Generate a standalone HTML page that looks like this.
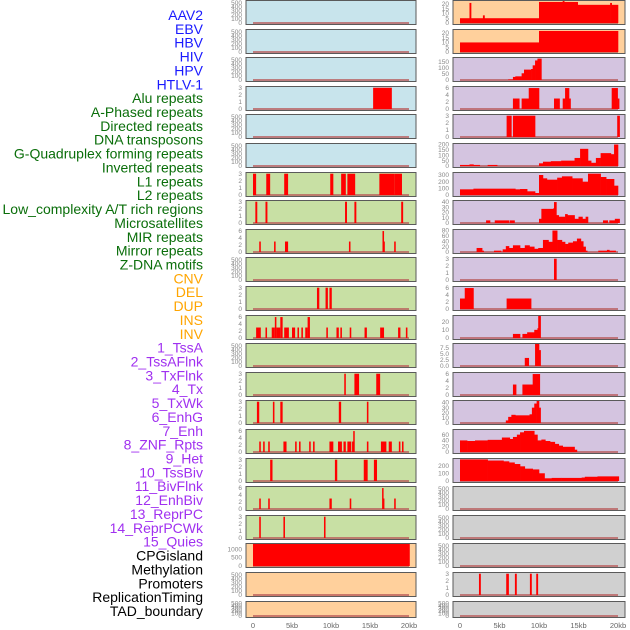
<!DOCTYPE html>
<html><head><meta charset="utf-8">
<style>
html,body{margin:0;padding:0;background:#fff;}
svg{display:block;}
text{font-family:"Liberation Sans",sans-serif;}
</style></head>
<body>
<svg id="chart" width="630" height="630" viewBox="0 0 630 630" xmlns="http://www.w3.org/2000/svg"></svg>
<script>
// ---------- labels ----------
const labelNames=["AAV2","EBV","HBV","HIV","HPV","HTLV-1","Alu repeats","A-Phased repeats","Directed repeats","DNA transposons","G-Quadruplex forming repeats","Inverted repeats","L1 repeats","L2 repeats","Low_complexity A/T rich regions","Microsatellites","MIR repeats","Mirror repeats","Z-DNA motifs","CNV","DEL","DUP","INS","INV","1_TssA","2_TssAFlnk","3_TxFlnk","4_Tx","5_TxWk","6_EnhG","7_Enh","8_ZNF_Rpts","9_Het","10_TssBiv","11_BivFlnk","12_EnhBiv","13_ReprPC","14_ReprPCWk","15_Quies","CPGisland","Methylation","Promoters","ReplicationTiming","TAD_boundary"];
const labelGroups=[0,0,0,0,0,0,1,1,1,1,1,1,1,1,1,1,1,1,1,2,2,2,2,2,3,3,3,3,3,3,3,3,3,3,3,3,3,3,3,4,4,4,4,4];
const groupColors=["#1a1aff","#0a6e0a","#ffa500","#a030f0","#000000"];

// ---------- x ticks ----------
const xTickVals=[0,5,10,15,20];
const xTickLabels=["0","5kb","10kb","15kb","20kb"];

// ---------- left column data (segments: start kb, end kb, value) ----------
const lp3_x0=[15.4], lp3_x1=[17.8], lp3_v=[3];
const lp6_x0=[0,1.7,4,9.9,11.3,12.1,16.2,18.1], lp6_x1=[0.4,2.2,4.5,10.3,11.9,13.1,18.1,19.1], lp6_v=[3,3,3,3,3,3,3,3];
const lp7_x0=[0.3,1.6,11.8,13.0,19.0], lp7_x1=[0.55,1.85,12.05,13.25,19.25], lp7_v=[3,3,3,3,3];
const lp8_x0=[0.8,2.7,4.1,12.3,16.6,16.7,18.1], lp8_x1=[1.0,2.9,4.5,12.5,16.8,16.9,18.3], lp8_v=[3,3,3,3,6,3,3];
const lp10_x0=[8.2,9.3,9.8], lp10_x1=[8.5,9.6,10.1], lp10_v=[3,3,3];
const lp11_x0=[0.4,1.6,2.4,2.8,3.0,3.5,4.0,5.0,5.7,6.2,6.7,7.0,9.4,10.7,11.2,12.4,14.3,16.3,18.6,19.6];
const lp11_x1=[1.0,1.8,2.8,3.0,3.5,3.8,4.6,5.4,5.9,6.4,7.0,7.3,9.6,11.0,11.4,12.6,14.6,16.8,18.9,19.8];
const lp11_v=[3,3,3,6,3,6,3,3,3,3,3,6,3,3,3,3,3,3,3,3];
const lp13_x0=[11.7,13.0,15.8], lp13_x1=[11.9,13.6,16.3], lp13_v=[3,3,3];
const lp14_x0=[0.5,2.55,3.5,11.0,14.6], lp14_x1=[0.8,2.75,3.8,11.3,14.8], lp14_v=[3,3,3,3,3];
const lp15_x0=[0.8,1.3,1.95,3.9,5.4,5.9,7.2,7.7,9.8,10.9,11.6,12.1,12.7,14.6,16.4,17.4,18.7,19.1,12.85];
const lp15_x1=[1.0,1.5,2.15,4.3,5.6,6.1,7.4,7.9,10.3,11.4,11.9,12.6,13.0,14.8,17.1,17.8,18.9,19.3,12.95];
const lp15_v=[3,3,3,3,3,3,3,3,3,3,3,3,3,3,3,3,3,3,6];
const lp16_x0=[2.2,10.5,14.2,15.5], lp16_x1=[2.5,10.8,14.7,15.9], lp16_v=[3,3,3,3];
const lp17_x0=[0.8,1.95,9.8,12.4,16.55,16.65,18.1], lp17_x1=[1.0,2.15,10.1,12.6,16.65,16.85,18.3], lp17_v=[3,3,3,3,6,3,3];
const lp18_x0=[0.8,3.9,9.1], lp18_x1=[1.0,4.1,9.3], lp18_v=[3,3,3];
const lp19_x0=[0], lp19_x1=[20.1], lp19_v=[1300];

// ---------- right column data (step edges in kb, values between) ----------
const rp0_e=[0,1.2,1.4,2.9,3.1,10,13,13.15,14.9,19.0,19.2,20], rp0_v=[5,21,5,8,5,22,25,22,19,21,19];
const rp1_e=[0,10,20], rp1_v=[10,22];
const rp2_e=[6.1,6.7,7.0,7.8,8.1,9.0,9.2,9.5,9.8,10.3], rp2_v=[5,25,30,55,85,90,120,160,175];
const rp3_e=[6.7,7.5,7.8,8.7,10.0,11.9,12.6,13.0,13.3,13.8,13.9,19.2,19.95,20.1], rp3_v=[3,0,3,6,0,3,0,3,6,3,0,6,3];
const rp4_e=[5.9,6.5,6.7,9.5,19.9,20.2], rp4_v=[3,0,3,0,3];
const rp5_e=[0,1.2,1.7,2.5,3.5,4.7,10,10.5,11.5,12.8,14.5,15.2,16.2,16.6,17.2,17.8,19.1,19.5,20], rp5_v=[10,15,10,0,10,0,25,40,45,50,75,160,50,30,75,120,110,200];
const rp6_e=[0,1.7,7,7.6,8.5,9.5,10,10.5,11,12.3,12.9,14.2,15.5,16.2,17.8,18.5,19.5,20], rp6_v=[85,95,85,90,55,30,300,250,230,260,280,250,200,320,270,240,140];
const rp7_e=[3.3,3.8,4.4,6.2,6.3,6.9,10.0,10.3,11.8,11.9,12.2,12.5,13.3,13.6,14.5,15.0,15.5,15.9,16.2,18.1,18.7,18.9,19.6,20.2], rp7_v=[5,0,5,0,5,0,8,27,28,40,15,12,17,15,8,12,8,12,0,5,0,5,8];
const rp8_e=[2.1,2.8,2.9,4.3,5.2,5.4,5.8,6.2,6.7,7.6,8.2,8.8,9.4,9.9,10.5,11.2,11.7,12.3,12.9,13.3,13.7,14.3,14.8,15.3,15.6,15.9,16.1,17.5,18.6,18.9,19.7], rp8_v=[15,5,0,5,0,10,22,15,25,15,25,20,12,15,45,38,80,45,38,30,35,40,50,40,20,5,0,5,8,5];
const rp9_e=[11.9,12.2], rp9_v=[3];
const rp10_e=[0,0.6,1.7,5.9,9.0], rp10_v=[3,6,0,3];
const rp11_e=[6.7,7.6,7.9,8.5,9.4,9.8,9.9,10.2], rp11_v=[5,0,5,7,10,12,27];
const rp12_e=[8.2,8.7,9.5,10.0,10.2], rp12_v=[3.3,0,9,6.5];
const rp13_e=[6.7,7.1,7.9,9.2,10.1], rp13_v=[3,0,3,6];
const rp14_e=[5.8,6.1,6.5,7.0,8.8,9.1,9.4,9.7,10.0,10.2], rp14_v=[5,12,16,15,17,30,38,43,30];
const rp15_e=[0,0.9,1.9,3.5,5.3,6.3,6.7,7.2,7.6,8.1,9.4,9.8,10.3,10.8,11.4,12.0,12.5,13.0,14.5,14.8], rp15_v=[40,38,40,42,50,45,52,60,68,73,60,40,43,38,35,28,22,18,8];
const rp16_e=[0,3.5,5.5,6.2,6.9,7.6,8.2,9.2,10.0,10.7,11.6,12.8,15.4,15.8,17.4,20.1], rp16_v=[280,265,255,240,220,190,160,150,100,35,40,40,45,55,60];
const rp20_e=[2.4,2.6,5.85,6.15,6.95,7.15,8.85,9.05,9.65,9.85], rp20_v=[3,0,3,0,3,0,3,0,3];

// ---------- axis config ----------
const T500=[0,100,200,300,400,500], T3=[0,1,2,3], T6=[0,2,4,6];
const leftMax=[550,550,550,3.1,550,550,3.1,3.1,6.3,550,3.1,6.3,550,3.1,3.1,6.3,3.1,6.3,3.1,1300,550,550];
const leftTicks=[T500,T500,T500,T3,T500,T500,T3,T3,T6,T500,T3,T6,T500,T3,T3,T6,T3,T6,T3,[0,500,1000],T500,T500];
const rightMax=[23,23,180,6.3,3.1,205,330,42,82,3.1,6.3,27,9,6.3,43,76,285,550,550,550,3.1,550];
const rightTicks=[[0,5,10,15,20],[0,5,10,15,20],[0,50,100,150],T6,T3,[0,50,100,150,200],[0,100,200,300],[0,10,20,30,40],[0,20,40,60,80],T3,T6,[0,10,20],[0,2.5,5,7.5],T6,[0,10,20,30,40],[0,20,40,60],[0,100,200],T500,T500,T500,T3,T500];
const leftSeg={3:[lp3_x0,lp3_x1,lp3_v],6:[lp6_x0,lp6_x1,lp6_v],7:[lp7_x0,lp7_x1,lp7_v],8:[lp8_x0,lp8_x1,lp8_v],10:[lp10_x0,lp10_x1,lp10_v],11:[lp11_x0,lp11_x1,lp11_v],13:[lp13_x0,lp13_x1,lp13_v],14:[lp14_x0,lp14_x1,lp14_v],15:[lp15_x0,lp15_x1,lp15_v],16:[lp16_x0,lp16_x1,lp16_v],17:[lp17_x0,lp17_x1,lp17_v],18:[lp18_x0,lp18_x1,lp18_v],19:[lp19_x0,lp19_x1,lp19_v]};
const rightStep={0:[rp0_e,rp0_v],1:[rp1_e,rp1_v],2:[rp2_e,rp2_v],3:[rp3_e,rp3_v],4:[rp4_e,rp4_v],5:[rp5_e,rp5_v],6:[rp6_e,rp6_v],7:[rp7_e,rp7_v],8:[rp8_e,rp8_v],9:[rp9_e,rp9_v],10:[rp10_e,rp10_v],11:[rp11_e,rp11_v],12:[rp12_e,rp12_v],13:[rp13_e,rp13_v],14:[rp14_e,rp14_v],15:[rp15_e,rp15_v],16:[rp16_e,rp16_v],20:[rp20_e,rp20_v]};

const NS="http://www.w3.org/2000/svg";
const svg=document.getElementById("chart");
function mk(tag,attrs,parent){const e=document.createElementNS(NS,tag);for(const k in attrs)e.setAttribute(k,attrs[k]);(parent||svg).appendChild(e);return e;}

// labels
labelNames.forEach((n,i)=>{
  const t=mk("text",{x:203,y:20+i*13.86,"text-anchor":"end","font-size":"14",fill:groupColors[labelGroups[i]]});
  
  
  t.textContent=n;
});

const cols=[
 {px0:246,px1:416,k0:253,k1:409,bg:i=>i<6?"#c8e4ec":(i<19?"#c8e0a4":"#ffd09c"),max:leftMax,ticks:leftTicks,side:"left"},
 {px0:453,px1:625,k0:460,k1:618,bg:i=>i<2?"#ffd09c":(i<17?"#d4c4e0":"#d0d0d0"),max:rightMax,ticks:rightTicks,side:"right"}
];

cols.forEach((c,ci)=>{
  const xs=kb=>c.k0+(kb/20)*(c.k1-c.k0);
  for(let r=0;r<22;r++){
    const top=Math.round(r*28.6), h=r===21?17:25;
    const yb=top+h-2, yt=top+1;
    const ymax=c.max[r];
    const ys=v=>yb-(Math.min(v,ymax)/ymax)*(yb-yt);
    const g=mk("g",{});
    
    
    const bgr=mk("rect",{x:c.px0,y:top+0.5,width:c.px1-c.px0,height:h-1,fill:c.bg(r),stroke:"#5a5a5a","stroke-width":1},g);
    
    
    const bl=mk("line",{x1:xs(0),x2:xs(20),y1:yb,y2:yb,stroke:"#b85a5a","stroke-width":1.5},g);
    
    
    const isDec=c.ticks[r].some(v=>!Number.isInteger(v));
    c.ticks[r].forEach(v=>{
      const t=mk("text",{x:c.px0-4,y:ys(v)+2.2,"text-anchor":"end","font-size":"6.5",fill:"#888"},g);
      
      
      t.textContent=isDec?v.toFixed(1):String(v);
    });
    if(ci===0&&leftSeg[r]){
      const [a,b,v]=leftSeg[r];
      for(let i=0;i<a.length;i++){
        const x=xs(a[i]),w=Math.max(xs(b[i])-x,1.5);
        const m=mk("rect",{x:x,y:ys(v[i]),width:w,height:yb-ys(v[i]),fill:"#ff0000"},g);
        
        
      }
    }
    if(ci===1&&rightStep[r]){
      const [e,v]=rightStep[r];
      for(let i=0;i<v.length;i++){
        if(v[i]<=0)continue;
        const x=xs(e[i]),w=Math.max(xs(e[i+1])-x,1.5);
        const m=mk("rect",{x:x,y:ys(v[i]),width:w+0.3,height:yb-ys(v[i]),fill:"#ff0000"},g);
        
        
      }
    }
  }
  xTickVals.forEach((v,i)=>{
    const t=mk("text",{x:xs(v),y:628,"text-anchor":"middle","font-size":"7.5",fill:"#666"});
    
    
    t.textContent=xTickLabels[i];
  });
});
</script>
</body></html>
